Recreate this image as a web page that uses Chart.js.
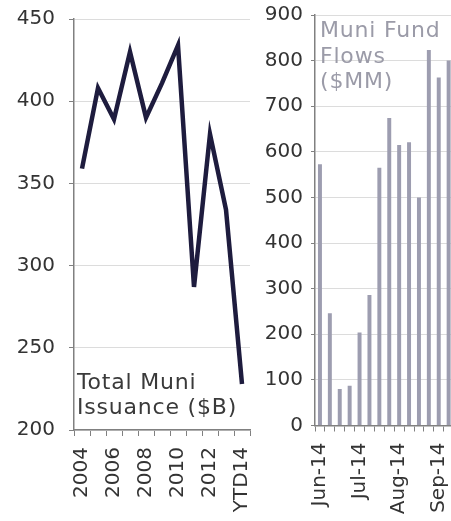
<!DOCTYPE html>
<html>
<head>
<meta charset="utf-8">
<script src="https://cdn.jsdelivr.net/npm/chart.js@4.4.1/dist/chart.umd.min.js"></script>
<style>
  html, body { margin: 0; padding: 0; background: #fff; overflow: hidden; }
  body { width: 451px; height: 521px; position: relative; font-family: "DejaVu Sans", sans-serif; }
  canvas { position: absolute; top: 0; }
  #issuanceChart { left: 0; }
  #flowsChart { left: 250px; }
  .note { position: absolute; font-size: 22px; line-height: 25.5px; letter-spacing: 0.8px; white-space: nowrap; }
  #issuanceNote { left: 77px; top: 368.5px; color: #3a3a3a; }
  #flowsNote { left: 320px; top: 17.3px; color: #9b9ba8; }
</style>
</head>
<body>
<canvas id="issuanceChart" width="262" height="521"></canvas>
<canvas id="flowsChart" width="205" height="521"></canvas>
<div class="note" id="issuanceNote">Total Muni<br>Issuance ($B)</div>
<div class="note" id="flowsNote">Muni Fund<br>Flows<br>($MM)</div>
<script>
// left panel: yearly issuance
var issuanceYears = ["2004", "2005", "2006", "2007", "2008", "2009", "2010", "2011", "2012", "2013", "YTD14"];
var issuanceValues = [359, 408, 389, 430, 390, 411, 434, 287, 380, 334, 228];
var issuanceXLabels = ["2004", "", "2006", "", "2008", "", "2010", "", "2012", "", "YTD14"];
var issuanceYTicks = [200, 250, 300, 350, 400, 450];

// right panel: weekly fund flows
var flowWeeks = ["Jun 4", "Jun 11", "Jun 18", "Jun 25", "Jul 2", "Jul 9", "Jul 16",
  "Jul 23", "Aug 6", "Aug 13", "Aug 20", "Aug 27", "Sep 3", "Sep 10"];
var flowValues = [573, 246, 80, 87, 204, 286, 565, 674, 615, 621, 500, 823, 763, 800];
var flowXLabels = ["Jun-14", "", "", "", "Jul-14", "", "", "", "Aug-14", "", "", "", "Sep-14", ""];
var flowYTicks = [0, 100, 200, 300, 400, 500, 600, 700, 800, 900];

Chart.defaults.font.family = "'DejaVu Sans', sans-serif";
Chart.defaults.color = "#333";

var axisGray = "#808080";
var gridGray = "#dcdcdc";

// fixed axis sizes, and no extra room for overflowing labels
function fixSize(prop, size) {
  return function (s) {
    s[prop] = size;
    s.paddingTop = s.paddingBottom = s.paddingLeft = s.paddingRight = 0;
  };
}

var issuanceChart = new Chart(document.getElementById("issuanceChart"), {
  type: "line",
  data: {
    labels: issuanceYears,
    datasets: [{
      data: issuanceValues,
      borderColor: "#1e1c3e",
      borderWidth: 4.5,
      borderJoinStyle: "miter",
      pointRadius: 0,
      tension: 0,
      fill: false
    }]
  },
  options: {
    responsive: false,
    animation: false,
    layout: { padding: { top: 19, right: 12, left: 0, bottom: 0 } },
    plugins: { legend: { display: false }, tooltip: { enabled: false } },
    scales: {
      x: {
        offset: true,
        grid: { offset: true, drawOnChartArea: false, tickLength: 6, color: axisGray },
        border: { color: axisGray, width: 1.5 },
        ticks: {
          autoSkip: false, maxRotation: 90, minRotation: 90, padding: 11,
          font: { size: 20 },
          callback: function (v, i) { return issuanceXLabels[i]; }
        },
        afterFit: fixSize("height", 91)
      },
      y: {
        min: issuanceYTicks[0],
        max: issuanceYTicks[issuanceYTicks.length - 1],
        ticks: { stepSize: 50, padding: 14, font: { size: 20 } },
        grid: { color: gridGray, tickColor: axisGray, tickLength: 5 },
        border: { color: axisGray, width: 1.5 },
        afterFit: fixSize("width", 74)
      }
    }
  }
});

var flowsChart = new Chart(document.getElementById("flowsChart"), {
  type: "bar",
  data: {
    labels: flowWeeks,
    datasets: [{
      data: flowValues,
      backgroundColor: "#9d9db0",
      barPercentage: 0.4,
      categoryPercentage: 1.0
    }]
  },
  options: {
    responsive: false,
    animation: false,
    layout: { padding: { top: 15, right: 1.4, left: 0, bottom: 0 } },
    plugins: { legend: { display: false }, tooltip: { enabled: false } },
    scales: {
      x: {
        grid: { offset: true, drawOnChartArea: false, tickLength: 6, color: axisGray },
        border: { color: axisGray, width: 1.5 },
        ticks: {
          autoSkip: false, maxRotation: 90, minRotation: 90, padding: 11,
          font: { size: 20 },
          callback: function (v, i) { return flowXLabels[i]; }
        },
        afterFit: fixSize("height", 95.5)
      },
      y: {
        min: flowYTicks[0],
        max: flowYTicks[flowYTicks.length - 1],
        ticks: { stepSize: 100, padding: 8, font: { size: 20 } },
        grid: { color: gridGray, tickColor: axisGray, tickLength: 4 },
        border: { color: axisGray, width: 1.5 },
        afterFit: fixSize("width", 65)
      }
    }
  }
});
</script>
</body>
</html>
